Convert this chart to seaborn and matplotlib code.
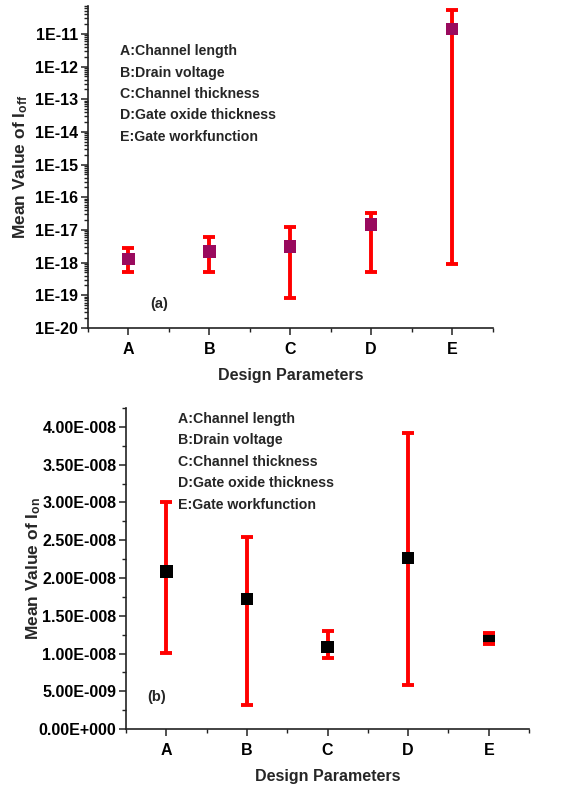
import numpy as np
import pandas as pd
import matplotlib
matplotlib.use("Agg")
import matplotlib.pyplot as plt
from matplotlib.ticker import LogLocator, NullFormatter, FixedLocator, MultipleLocator, FuncFormatter
import seaborn as sns

# Design parameters varied in the study
params = ["A", "B", "C", "D", "E"]
param_names = ["A:Channel length", "B:Drain voltage", "C:Channel thickness",
               "D:Gate oxide thickness", "E:Gate workfunction"]

# (a) off-current statistics
ioff_mean = [1.3e-18, 2.2e-18, 3.1e-18, 1.45e-17, 1.4e-11]
ioff_low = [5.0e-19, 5.0e-19, 8.0e-20, 5.0e-19, 9.0e-19]
ioff_high = [2.9e-18, 5.9e-18, 1.2e-17, 3.3e-17, 5.4e-11]
ioff_decades = [-20, -19, -18, -17, -16, -15, -14, -13, -12, -11]

# (b) on-current statistics
ion_mean = [2.086e-8, 1.72e-8, 1.09e-8, 2.264e-8, 1.20e-8]
ion_low = [1.01e-8, 3.2e-9, 9.4e-9, 5.8e-9, 1.13e-8]
ion_high = [3.01e-8, 2.537e-8, 1.30e-8, 3.92e-8, 1.27e-8]

sns.set_theme(style="ticks")
plt.rcParams["font.family"] = ["Liberation Sans", "DejaVu Sans"]
plt.rcParams["font.weight"] = "bold"
plt.rcParams["mathtext.fontset"] = "custom"
plt.rcParams["mathtext.rm"] = "Liberation Sans:bold"
plt.rcParams["mathtext.it"] = "Liberation Sans:bold"
plt.rcParams["mathtext.bf"] = "Liberation Sans:bold"

fig = plt.figure(figsize=(5.63, 7.89), dpi=100)
ax1 = fig.add_axes([0.1563, 0.5843, 0.7185, 0.408])
ax2 = fig.add_axes([0.2238, 0.0760, 0.7160, 0.4068])

RED = "#ff0000"
TICK_FS = 11.5


def draw_panel(ax, mean, low, high, marker_color, msize):
    df = pd.DataFrame({"param": params, "mean": mean,
                       "low": low, "high": high})
    yerr = np.vstack([df["mean"] - df["low"], df["high"] - df["mean"]])
    _, caps, _ = ax.errorbar(df["param"], df["mean"], yerr=yerr, fmt="none",
                             ecolor=RED, elinewidth=2.8, capsize=4.6,
                             capthick=2.8, zorder=2)
    for cap in caps:
        cap.set_zorder(4)
    sns.scatterplot(data=df, x="param", y="mean", marker="s", s=msize,
                    color=marker_color, edgecolor="none", ax=ax, zorder=3)
    ax.set_xlim(-0.5, 4.5)
    ax.xaxis.set_minor_locator(FixedLocator([-0.5, 0.5, 1.5, 2.5, 3.5, 4.5]))
    for side in ["top", "right"]:
        ax.spines[side].set_visible(False)
    for side in ["left", "bottom"]:
        ax.spines[side].set_linewidth(1.2)
        ax.spines[side].set_color("#222222")
    ax.tick_params(which="major", direction="out", length=5, width=1.1,
                   colors="#222222", labelcolor="black", labelsize=TICK_FS)
    ax.tick_params(which="minor", direction="out", length=3, width=1.0,
                   colors="#222222")
    ax.tick_params(axis="x", pad=5)
    ax.tick_params(axis="y", pad=2)
    ax.set_xlabel("Design Parameters", fontsize=11.5, fontweight="bold",
                  labelpad=8)


# ---- (a) log scale off-current ----
draw_panel(ax1, ioff_mean, ioff_low, ioff_high, "#990a5e", 80)
ax1.set_yscale("log")
ax1.set_ylim(1e-20, 10 ** -10.15)
ax1.yaxis.set_major_locator(FixedLocator([10.0 ** d for d in ioff_decades]))
ax1.yaxis.set_minor_locator(LogLocator(base=10, subs=np.arange(2, 10), numticks=50))
ax1.yaxis.set_minor_formatter(NullFormatter())
ax1.yaxis.set_major_formatter(
    FuncFormatter(lambda v, p: "1E%d" % int(round(np.log10(v)))))
ax1.set_ylabel(r"Mean Value of I$_{\mathrm{off}}$", fontsize=12.5,
               fontweight="bold")
ax1.yaxis.set_label_coords(-0.143, 0.5)
for i, name in enumerate(param_names):
    ax1.text(0.08, 0.86 - i * 0.0665, name, transform=ax1.transAxes,
             fontsize=10.2, fontweight="bold", va="center", ha="left")
ax1.text(0.155, 0.075, "(a)", transform=ax1.transAxes, fontsize=10.5,
         fontweight="bold", va="center", ha="left")

# ---- (b) linear scale on-current ----
draw_panel(ax2, ion_mean, ion_low, ion_high, "black", 80)
ax2.set_ylim(0, 4.25e-8)
ax2.yaxis.set_major_locator(MultipleLocator(5e-9))
ax2.yaxis.set_minor_locator(MultipleLocator(2.5e-9))


def sci_fmt(v, p):
    if abs(v) < 1e-20:
        return "0.00E+000"
    exp = int(np.floor(np.log10(abs(v))))
    mant = v / 10 ** exp
    sign = "-" if exp < 0 else "+"
    return "%.2fE%s%03d" % (mant, sign, abs(exp))


ax2.yaxis.set_major_formatter(FuncFormatter(sci_fmt))
ax2.set_ylabel(r"Mean Value of I$_{\mathrm{on}}$", fontsize=12.5,
               fontweight="bold")
ax2.yaxis.set_label_coords(-0.205, 0.5)
for i, name in enumerate(param_names):
    ax2.text(0.13, 0.967 - i * 0.067, name, transform=ax2.transAxes,
             fontsize=10.2, fontweight="bold", va="center", ha="left")
ax2.text(0.052, 0.10, "(b)", transform=ax2.transAxes, fontsize=10.5,
         fontweight="bold", va="center", ha="left")

for ax in (ax1, ax2):
    for lbl in ax.get_xticklabels() + ax.get_yticklabels():
        lbl.set_fontweight("bold")

fig.savefig("out.png", dpi=100, facecolor="white")
